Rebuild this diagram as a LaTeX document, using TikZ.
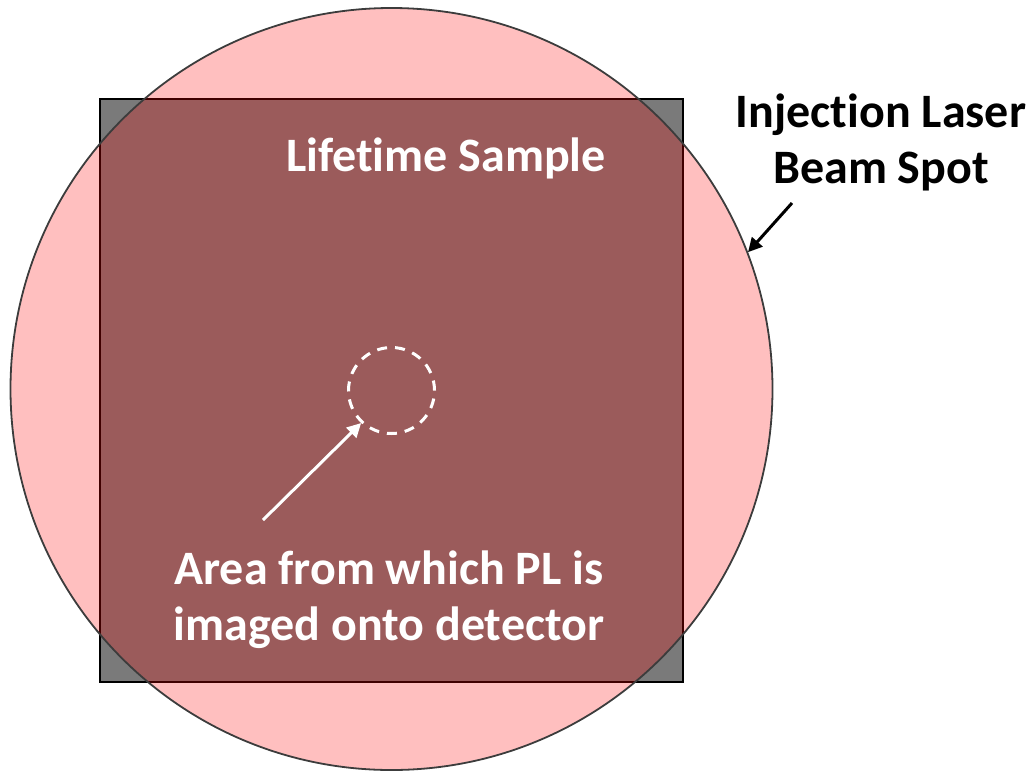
\documentclass[tikz,border=0pt]{standalone}
\usepackage{fontspec}
\setmainfont[Ligatures=NoCommon]{Carlito}
\usetikzlibrary{arrows.meta}
\definecolor{samplegray}{RGB}{122,122,122}
\definecolor{rimgray}{RGB}{60,60,60}
\tikzset{
  label text/.style={font=\fontsize{48}{56}\selectfont\bfseries, align=center, inner sep=0pt},
  pointer/.style={line width=3pt, -{Triangle[length=14pt,width=14pt]}},
}
\begin{document}
\begin{tikzpicture}[x=1pt,y=-1pt]
\useasboundingbox (0,0) rectangle (1036,772);
\node[draw=black, line width=2pt, fill=samplegray, minimum width=583pt, minimum height=583pt, inner sep=0pt] (sample) at (391.5,390.5) {};
\node[circle, draw=rimgray, line width=1.8pt, fill=red, fill opacity=0.25, draw opacity=1, minimum size=762pt, inner sep=0pt] (beam) at (391.5,389) {};
\node[circle, draw=white, line width=3pt, dash pattern=on 10pt off 8pt, minimum size=86pt, inner sep=0pt] (area) at (391.5,390.5) {};
\node[label text, text=white, anchor=base] (sampletext) at (446,171) {Lifetime Sample};
\node[label text, text=black] (beamtext) at (881,142) {Injection Laser\\Beam Spot};
\node[label text, text=white] (areatext) at (389,600) {Area from which PL is\\imaged onto detector};
\coordinate (beamtail) at (792,203);
\coordinate (areatail) at (263,520);
\draw[pointer, black] (beamtail) -- (beam.21.6);
\draw[pointer, white] (areatail) -- (area.227);
\end{tikzpicture}
\end{document}
